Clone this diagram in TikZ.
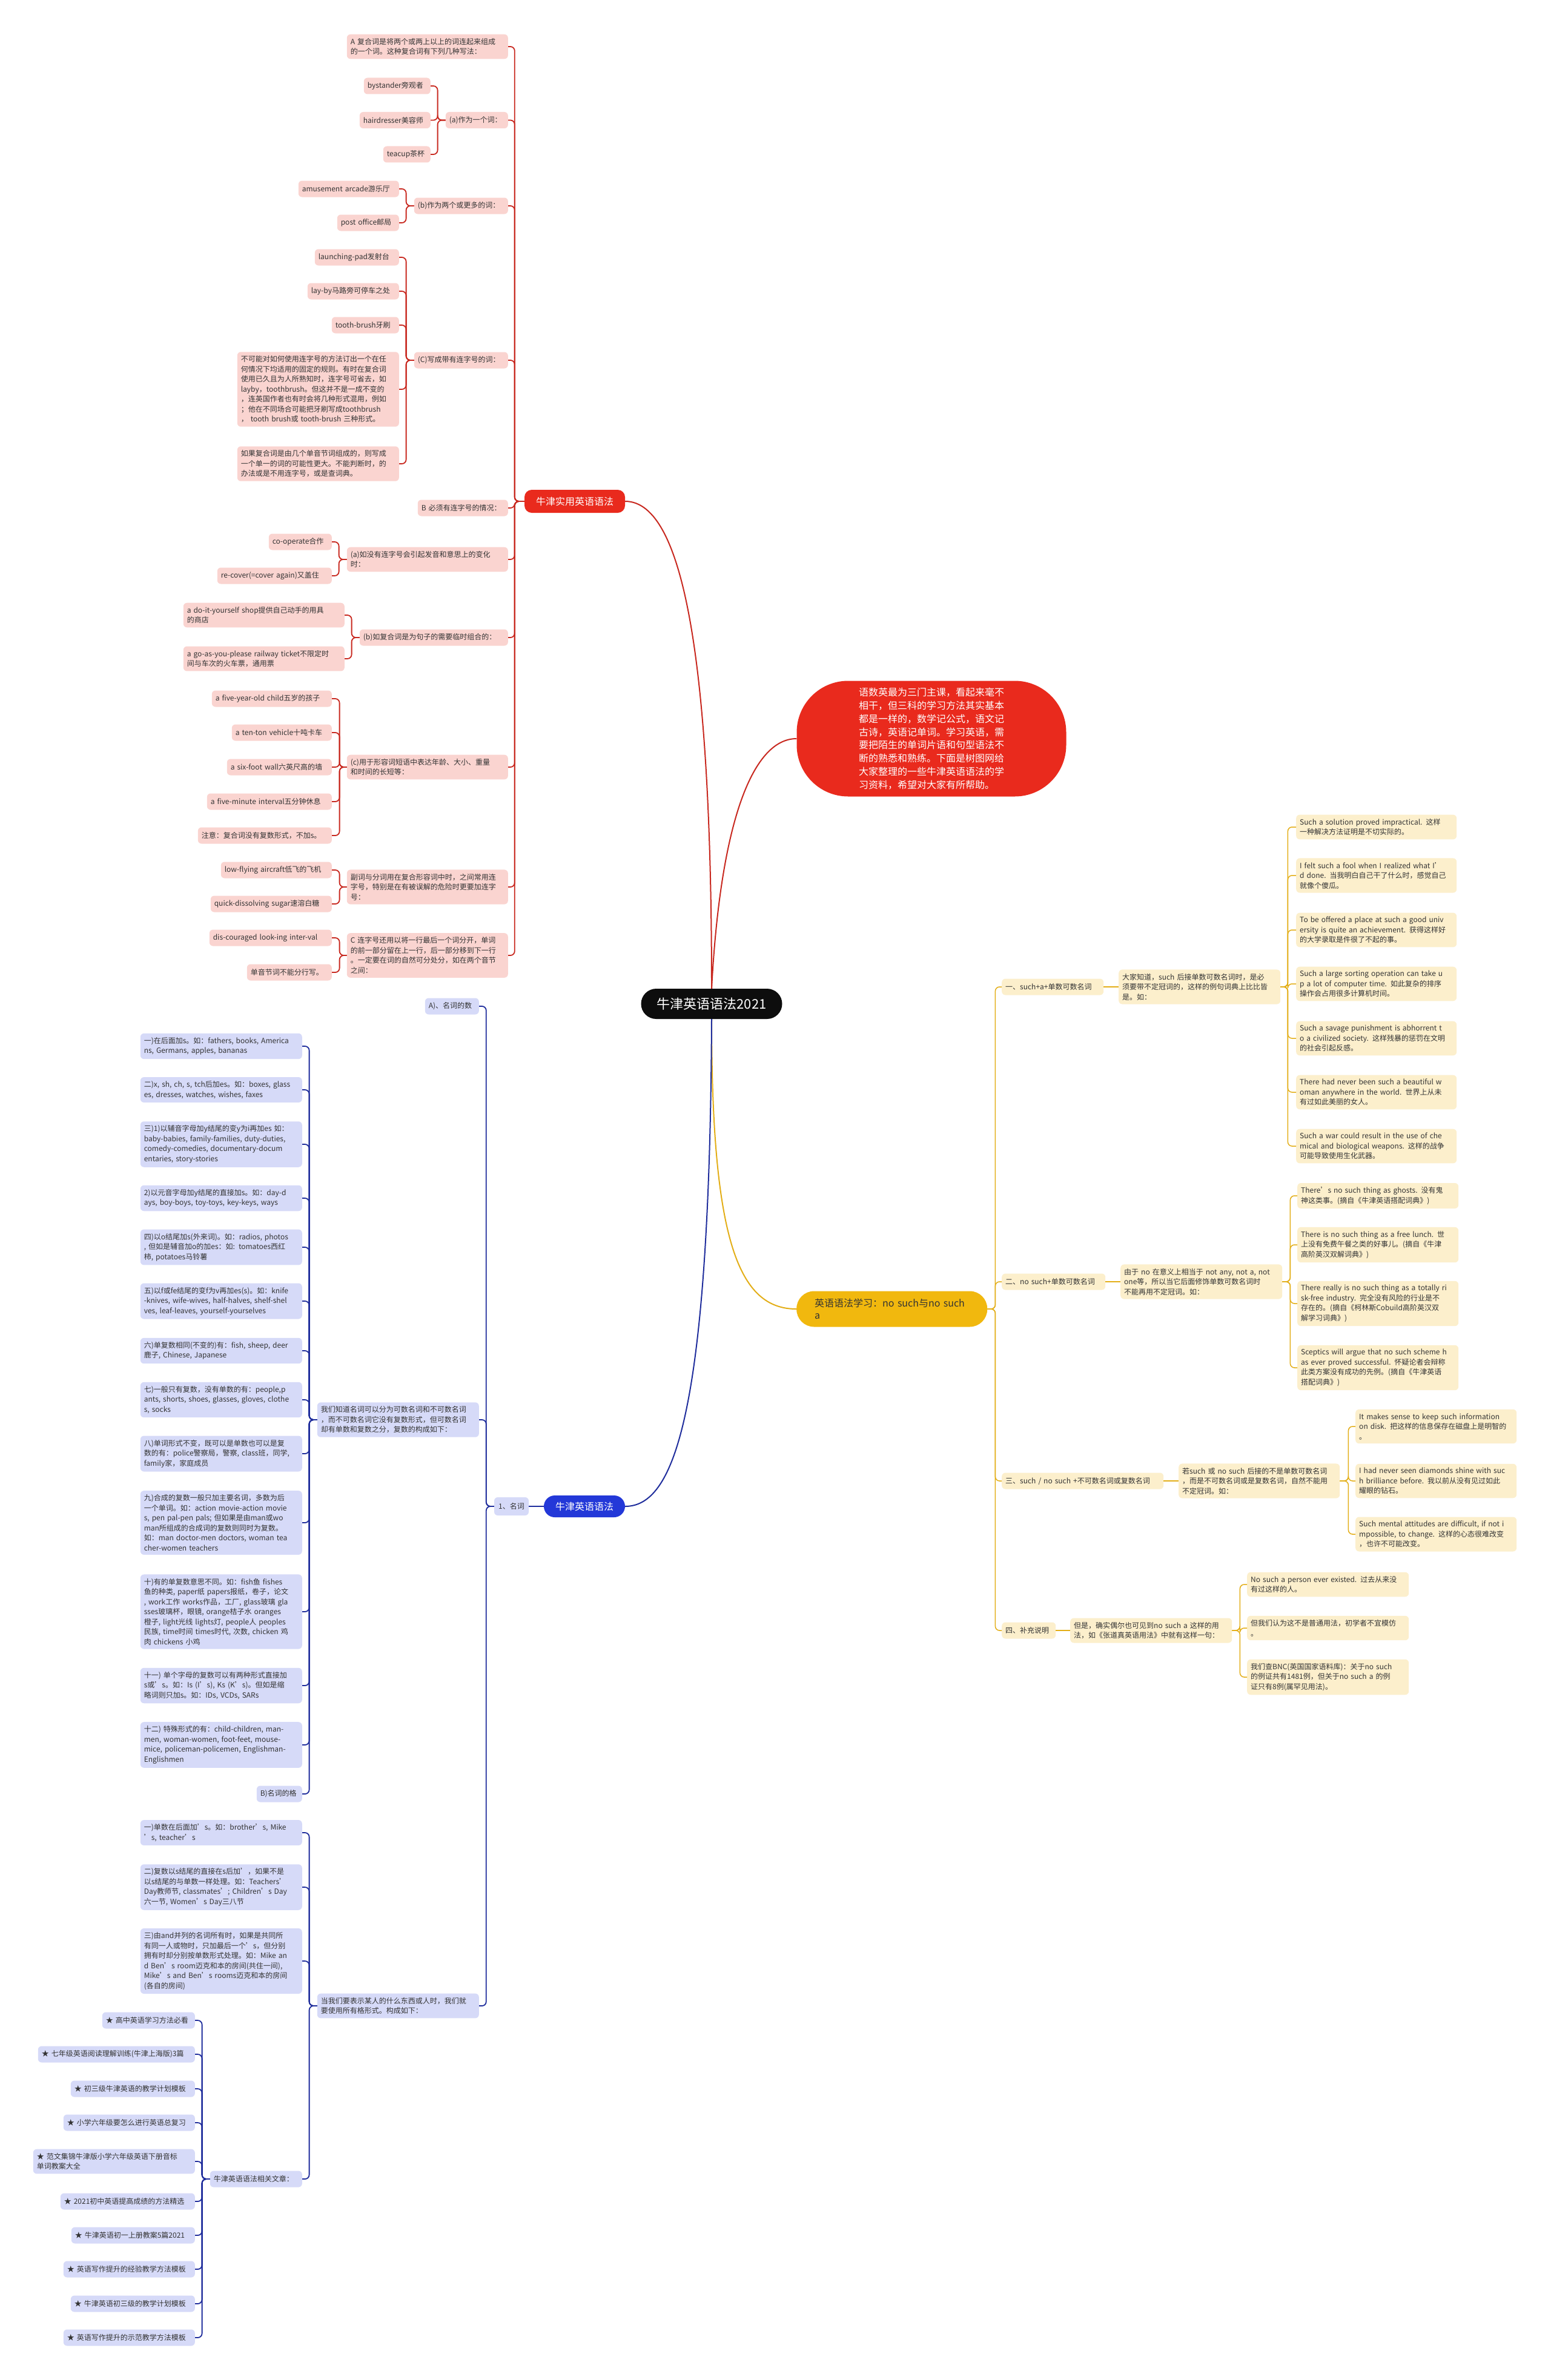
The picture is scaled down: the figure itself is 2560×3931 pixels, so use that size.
\documentclass[tikz,border=0pt]{standalone}
\usepackage{fontspec}
\setmainfont{Noto Sans CJK SC}
\usetikzlibrary{calc}
\definecolor{rfill}{HTML}{FAD4D0}
\definecolor{rline}{HTML}{C8281F}
\definecolor{rmain}{HTML}{E92A1D}
\definecolor{bfill}{HTML}{D6DAF8}
\definecolor{bline}{HTML}{1F2D9C}
\definecolor{bmain}{HTML}{2338D8}
\definecolor{yfill}{HTML}{FCEFCC}
\definecolor{yline}{HTML}{E3AE17}
\definecolor{ymain}{HTML}{F1B80E}
\definecolor{tcol}{HTML}{333333}
\newcommand\mmfix{\rightskip=-40pt plus 1fil\relax}
\newcommand\mmL[6]{\edef\mmtw{\the\numexpr#4-#3-12\relax pt}\node[#1,anchor=east,text width=\mmtw] (#2) at (#4,#5) {\mmfix #6};}
\newcommand\mmR[6]{\edef\mmtw{\the\numexpr#4-#3-12\relax pt}\node[#1,anchor=west,text width=\mmtw] (#2) at (#3,#5) {\mmfix #6};}
\newcommand\mmLC[4]{\draw[#1] (#2.west) -- ++(-#4,0) |- (#3.east);}
\newcommand\mmRC[4]{\draw[#1] (#2.east) -- ++(#4,0) |- (#3.west);}
\tikzset{
  mmbox/.style={rounded corners=6pt, inner xsep=6pt, inner ysep=6.5pt, minimum height=27pt, align=left, text=tcol, font=\fontsize{12}{16.5}\selectfont},
  rbox/.style={mmbox, fill=rfill},
  bbox/.style={mmbox, fill=bfill},
  ybox/.style={mmbox, fill=yfill},
  redlink/.style={draw=rline, line width=1.8pt, rounded corners=7pt},
  bluelink/.style={draw=bline, line width=1.8pt, rounded corners=7pt},
  yellink/.style={draw=yline, line width=1.5pt, rounded corners=7pt},
  rootst/.style={fill=black!95, text=white, rounded corners=25pt, minimum width=233pt, minimum height=50pt, inner sep=0pt, font=\fontsize{22}{26}\selectfont},
  introst/.style={fill=rmain, text=white, rounded corners=85pt, minimum width=445pt, minimum height=191pt, align=left, font=\fontsize{16}{21.8}\selectfont},
  redmainst/.style={fill=rmain, text=white, rounded corners=12pt, minimum width=166pt, minimum height=38pt, inner sep=0pt, font=\fontsize{16}{20}\selectfont},
  bluemainst/.style={fill=bmain, text=white, rounded corners=18pt, minimum width=134pt, minimum height=36pt, inner sep=0pt, font=\fontsize{16}{20}\selectfont},
  yelmainst/.style={fill=ymain, text=tcol, rounded corners=29pt, minimum height=59pt, inner xsep=30pt, inner ysep=8pt, align=left, font=\fontsize{16}{20}\selectfont},
}
\begin{document}
\begin{tikzpicture}[x=1pt,y=-1pt]
\fill[white] (0,0) rectangle (2560,3931);
\useasboundingbox (0,0) rectangle (2560,3931);

% ---------- main nodes ----------
\node[rootst] (root) at (1175,1658) {牛津英语语法2021};
\node[introst] (intro) at (1538,1220) {语数英最为三门主课，看起来毫不\\相干，但三科的学习方法其实基本\\都是一样的，数学记公式，语文记\\古诗，英语记单词。学习英语，需\\要把陌生的单词片语和句型语法不\\断的熟悉和熟练。下面是树图网给\\大家整理的一些牛津英语语法的学\\习资料，希望对大家有所帮助。};
\node[redmainst] (red) at (949,828) {牛津实用英语语法};
\node[bluemainst] (blue) at (965,2488) {牛津英语语法};
\node[yelmainst, anchor=west, text width=255pt] (yel) at (1315,2162) {\mmfix 英语语法学习：no such与no such\\ a};

\draw[rline, line width=2pt] (root.north) .. controls (1175,1100) and (1130,828) .. (red.east);
\draw[rline, line width=2pt] (root.north) .. controls (1190,1350) and (1245,1220) .. (intro.west);
\draw[yline, line width=2pt] (root.south) .. controls (1175,2050) and (1220,2162) .. (yel.west);
\draw[bline, line width=2pt] (root.south) .. controls (1172,2350) and (1110,2488) .. (blue.east);

% ---------- red branch ----------
\mmL{rbox}{rA}{573}{839}{77}{A 复合词是将两个或两上以上的词连起来组成\\的一个词。这种复合词有下列几种写法：}
\mmL{rbox}{ra}{736}{839}{198.5}{(a)作为一个词：}
\mmL{rbox}{ra1}{601}{711}{142}{bystander旁观者}
\mmL{rbox}{ra2}{594}{711}{198.5}{hairdresser美容师}
\mmL{rbox}{ra3}{633}{711}{255}{teacup茶杯}
\mmL{rbox}{rb}{684}{839}{340}{(b)作为两个或更多的词：}
\mmL{rbox}{rb1}{493}{659}{312}{amusement arcade游乐厅}
\mmL{rbox}{rb2}{557}{659}{368}{post office邮局}
\mmL{rbox}{rc}{684}{839}{595}{(C)写成带有连字号的词：}
\mmL{rbox}{rc1}{520}{659}{425}{launching-pad发射台}
\mmL{rbox}{rc2}{508}{659}{481}{lay-by马路旁可停车之处}
\mmL{rbox}{rc3}{548}{659}{537}{tooth-brush牙刷}
\mmL{rbox}{rc4}{392}{659}{643}{不可能对如何使用连字号的方法订出一个在任\\何情况下均适用的固定的规则。有时在复合词\\使用已久且为人所熟知时，连字号可省去，如\\layby，toothbrush。但这并不是一成不变的\\，连英国作者也有时会将几种形式混用，例如\\；他在不同场合可能把牙刷写成toothbrush\\， tooth brush或 tooth-brush 三种形式。}
\mmL{rbox}{rc5}{392}{659}{766}{如果复合词是由几个单音节词组成的，则写成\\一个单一的词的可能性更大。不能判断时，的\\办法或是不用连字号，或是查词典。}
\mmL{rbox}{rB}{690}{839}{839}{B 必须有连字号的情况：}
\mmL{rbox}{rd}{573}{839}{924}{(a)如没有连字号会引起发音和意思上的变化\\时：}
\mmL{rbox}{rd1}{444}{548}{895}{co-operate合作}
\mmL{rbox}{rd2}{359}{548}{951}{re-cover(=cover again)又盖住}
\mmL{rbox}{re}{594}{839}{1053}{(b)如复合词是为句子的需要临时组合的：}
\mmL{rbox}{re1}{303}{569}{1016}{a do-it-yourself shop提供自己动手的用具\\的商店}
\mmL{rbox}{re2}{303}{569}{1088}{a go-as-you-please railway ticket不限定时\\间与车次的火车票，通用票}
\mmL{rbox}{rf}{573}{839}{1267}{(c)用于形容词短语中表达年龄、大小、重量\\和时间的长短等：}
\mmL{rbox}{rf1}{350}{548}{1154}{a five-year-old child五岁的孩子}
\mmL{rbox}{rf2}{383}{548}{1210}{a ten-ton vehicle十吨卡车}
\mmL{rbox}{rf3}{375}{548}{1267}{a six-foot wall六英尺高的墙}
\mmL{rbox}{rf4}{342}{548}{1324}{a five-minute interval五分钟休息}
\mmL{rbox}{rf5}{327}{548}{1380}{注意：复合词没有复数形式，不加s。}
\mmL{rbox}{rg}{573}{839}{1465}{副词与分词用在复合形容词中时，之间常用连\\字号，特别是在有被误解的危险时更要加连字\\号：}
\mmL{rbox}{rg1}{365}{548}{1437}{low-flying aircraft低飞的飞机}
\mmL{rbox}{rg2}{348}{548}{1493}{quick-dissolving sugar速溶白糖}
\mmL{rbox}{rh}{573}{839}{1578}{C 连字号还用以将一行最后一个词分开，单词\\的前一部分留在上一行，后一部分移到下一行\\。一定要在词的自然可分处分，如在两个音节\\之间：}
\mmL{rbox}{rh1}{346}{548}{1549}{dis-couraged look-ing inter-val}
\mmL{rbox}{rh2}{408}{548}{1606}{单音节词不能分行写。}

\foreach \c in {rA,ra,rb,rc,rB,rd,re,rf,rg,rh} {\mmLC{redlink}{red}{\c}{16}}
\foreach \c in {ra1,ra2,ra3} {\mmLC{redlink}{ra}{\c}{13}}
\foreach \c in {rb1,rb2} {\mmLC{redlink}{rb}{\c}{13}}
\foreach \c in {rc1,rc2,rc3,rc4,rc5} {\mmLC{redlink}{rc}{\c}{13}}
\foreach \c in {rd1,rd2} {\mmLC{redlink}{rd}{\c}{13}}
\foreach \c in {re1,re2} {\mmLC{redlink}{re}{\c}{13}}
\foreach \c in {rf1,rf2,rf3,rf4,rf5} {\mmLC{redlink}{rf}{\c}{12}}
\foreach \c in {rg1,rg2} {\mmLC{redlink}{rg}{\c}{12}}
\foreach \c in {rh1,rh2} {\mmLC{redlink}{rh}{\c}{12}}

% ---------- blue branch ----------
\node[bbox, minimum width=57pt, minimum height=30pt, inner xsep=0pt] (b1) at (844.5,2488) {1、名词};
\mmL{bbox}{bA}{702}{791}{1662}{A)、名词的数}
\mmL{bbox}{bW}{524}{791}{2345}{我们知道名词可以分为可数名词和不可数名词\\，而不可数名词它没有复数形式，但可数名词\\却有单数和复数之分，复数的构成如下：}
\mmL{bbox}{bw1}{232}{499}{1728}{一)在后面加s。如：fathers, books, America\\ns, Germans, apples, bananas}
\mmL{bbox}{bw2}{232}{499}{1800}{二)x, sh, ch, s, tch后加es。如：boxes, glass\\es, dresses, watches, wishes, faxes}
\mmL{bbox}{bw3}{232}{499}{1890}{三)1)以辅音字母加y结尾的变y为i再加es 如：\\baby-babies, family-families, duty-duties,\\ comedy-comedies, documentary-docum\\entaries, story-stories}
\mmL{bbox}{bw4}{232}{499}{1979}{2)以元音字母加y结尾的直接加s。如：day-d\\ays, boy-boys, toy-toys, key-keys, ways}
\mmL{bbox}{bw5}{232}{499}{2060}{四)以o结尾加s(外来词)。如：radios, photos\\, 但如是辅音加o的加es：如: tomatoes西红\\柿, potatoes马铃薯}
\mmL{bbox}{bw6}{232}{499}{2149}{五)以f或fe结尾的变f为v再加es(s)。如：knife\\-knives, wife-wives, half-halves, shelf-shel\\ves, leaf-leaves, yourself-yourselves}
\mmL{bbox}{bw7}{232}{499}{2231}{六)单复数相同(不变的)有：fish, sheep, deer\\鹿子, Chinese, Japanese}
\mmL{bbox}{bw8}{232}{499}{2312}{七)一般只有复数，没有单数的有：people,p\\ants, shorts, shoes, glasses, gloves, clothe\\s, socks}
\mmL{bbox}{bw9}{232}{499}{2401}{八)单词形式不变，既可以是单数也可以是复\\数的有：police警察局，警察, class班，同学,\\ family家，家庭成员}
\mmL{bbox}{bw10}{232}{499}{2515}{九)合成的复数一般只加主要名词，多数为后\\一个单词。如：action movie-action movie\\s, pen pal-pen pals; 但如果是由man或wo\\man所组成的合成词的复数则同时为复数。\\如：man doctor-men doctors, woman tea\\cher-women teachers}
\mmL{bbox}{bw11}{232}{499}{2662}{十)有的单复数意思不同。如：fish鱼 fishes\\鱼的种类, paper纸 papers报纸，卷子，论文\\, work工作 works作品，工厂, glass玻璃 gla\\sses玻璃杯，眼镜, orange桔子水 oranges\\橙子, light光线 lights灯, people人 peoples\\民族, time时间 times时代, 次数, chicken 鸡\\肉 chickens 小鸡}
\mmL{bbox}{bw12}{232}{499}{2784}{十一) 单个字母的复数可以有两种形式直接加\\s或’s。如：Is (I’s), Ks (K’s)。但如是缩\\略词则只加s。如：IDs, VCDs, SARs}
\mmL{bbox}{bw13}{232}{499}{2882}{十二) 特殊形式的有：child-children, man-\\men, woman-women, foot-feet, mouse-\\mice, policeman-policemen, Englishman-\\Englishmen}
\mmL{bbox}{bwB}{424}{499}{2963}{B)名词的格}
\mmL{bbox}{bD}{524}{791}{3313}{当我们要表示某人的什么东西或人时，我们就\\要使用所有格形式。构成如下：}
\mmL{bbox}{bd1}{232}{499}{3027}{一)单数在后面加’s。如：brother’s, Mike\\’s, teacher’s}
\mmL{bbox}{bd2}{232}{499}{3117}{二)复数以s结尾的直接在s后加’，如果不是\\以s结尾的与单数一样处理。如：Teachers’\\Day教师节, classmates’; Children’s Day\\六一节, Women’s Day三八节}
\mmL{bbox}{bd3}{232}{499}{3239}{三)由and并列的名词所有时，如果是共同所\\有同一人或物时，只加最后一个’s，但分别\\拥有时却分别按单数形式处理。如：Mike an\\d Ben’s room迈克和本的房间(共住一间),\\Mike’s and Ben’s rooms迈克和本的房间\\(各自的房间)}
\mmL{bbox}{bRel}{347}{499}{3599}{牛津英语语法相关文章：}
\mmL{bbox}{s1}{169}{322}{3337}{★ 高中英语学习方法必看}
\mmL{bbox}{s2}{63}{322}{3393}{★ 七年级英语阅读理解训练(牛津上海版)3篇}
\mmL{bbox}{s3}{117}{322}{3450}{★ 初三级牛津英语的教学计划模板}
\mmL{bbox}{s4}{105}{322}{3506}{★ 小学六年级要怎么进行英语总复习}
\mmL{bbox}{s5}{55}{322}{3570}{★ 范文集锦牛津版小学六年级英语下册音标\\单词教案大全}
\mmL{bbox}{s6}{100}{322}{3636}{★ 2021初中英语提高成绩的方法精选}
\mmL{bbox}{s7}{118}{322}{3692}{★ 牛津英语初一上册教案5篇2021}
\mmL{bbox}{s8}{105}{322}{3748}{★ 英语写作提升的经验教学方法模板}
\mmL{bbox}{s9}{117}{322}{3805}{★ 牛津英语初三级的教学计划模板}
\mmL{bbox}{s10}{105}{322}{3861}{★ 英语写作提升的示范教学方法模板}

\draw[bluelink] (blue.west) -- (b1.east);
\foreach \c in {bA,bW,bD} {\mmLC{bluelink}{b1}{\c}{13}}
\foreach \c in {bw1,bw2,bw3,bw4,bw5,bw6,bw7,bw8,bw9,bw10,bw11,bw12,bw13,bwB} {\mmLC{bluelink}{bW}{\c}{13}}
\foreach \c in {bd1,bd2,bd3,bRel} {\mmLC{bluelink}{bD}{\c}{13}}
\foreach \c in {s1,s2,s3,s4,s5,s6,s7,s8,s9,s10} {\mmLC{bluelink}{bRel}{\c}{13}}

% ---------- yellow branch ----------
\mmR{ybox}{y1}{1654}{1822}{1630}{一、such+a+单数可数名词}
\mmR{ybox}{y1d}{1847}{2114}{1630}{大家知道，such 后接单数可数名词时，是必\\须要带不定冠词的，这样的例句词典上比比皆\\是。如：}
\mmR{ybox}{y1a}{2140}{2405}{1366}{Such a solution proved impractical. 这样\\一种解决方法证明是不切实际的。}
\mmR{ybox}{y1b}{2140}{2405}{1446}{I felt such a fool when I realized what I’\\d done. 当我明白自己干了什么时，感觉自己\\就像个傻瓜。}
\mmR{ybox}{y1c}{2140}{2405}{1536}{To be offered a place at such a good univ\\ersity is quite an achievement. 获得这样好\\的大学录取是件很了不起的事。}
\mmR{ybox}{y1e}{2140}{2405}{1625}{Such a large sorting operation can take u\\p a lot of computer time. 如此复杂的排序\\操作会占用很多计算机时间。}
\mmR{ybox}{y1f}{2140}{2405}{1715}{Such a savage punishment is abhorrent t\\o a civilized society. 这样残暴的惩罚在文明\\的社会引起反感。}
\mmR{ybox}{y1g}{2140}{2405}{1804}{There had never been such a beautiful w\\oman anywhere in the world. 世界上从未\\有过如此美丽的女人。}
\mmR{ybox}{y1h}{2140}{2405}{1893}{Such a war could result in the use of che\\mical and biological weapons. 这样的战争\\可能导致使用生化武器。}
\mmR{ybox}{y2}{1654}{1825}{2117}{二、no such+单数可数名词}
\mmR{ybox}{y2d}{1850}{2117}{2117}{由于 no 在意义上相当于 not any, not a, not\\ one等，所以当它后面修饰单数可数名词时\\不能再用不定冠词。如：}
\mmR{ybox}{y2a}{2142}{2408}{1975}{There’s no such thing as ghosts. 没有鬼\\神这类事。(摘自《牛津英语搭配词典》)}
\mmR{ybox}{y2b}{2142}{2408}{2056}{There is no such thing as a free lunch. 世\\上没有免费午餐之类的好事儿。(摘自《牛津\\高阶英汉双解词典》)}
\mmR{ybox}{y2c}{2142}{2408}{2153}{There really is no such thing as a totally ri\\sk-free industry. 完全没有风险的行业是不\\存在的。(摘自《柯林斯Cobuild高阶英汉双\\解学习词典》)}
\mmR{ybox}{y2e}{2142}{2408}{2259}{Sceptics will argue that no such scheme h\\as ever proved successful. 怀疑论者会辩称\\此类方案没有成功的先例。(摘自《牛津英语\\搭配词典》)}
\mmR{ybox}{y3}{1654}{1921}{2446}{三、such / no such +不可数名词或复数名词}
\mmR{ybox}{y3d}{1946}{2212}{2446}{若such 或 no such 后接的不是单数可数名词\\，而是不可数名词或是复数名词，自然不能用\\不定冠词。如：}
\mmR{ybox}{y3a}{2238}{2504}{2356}{It makes sense to keep such information\\on disk. 把这样的信息保存在磁盘上是明智的\\。}
\mmR{ybox}{y3b}{2238}{2504}{2446}{I had never seen diamonds shine with suc\\h brilliance before. 我以前从没有见过如此\\耀眼的钻石。}
\mmR{ybox}{y3c}{2238}{2504}{2534}{Such mental attitudes are difficult, if not i\\mpossible, to change. 这样的心态很难改变\\，也许不可能改变。}
\mmR{ybox}{y4}{1654}{1743}{2693}{四、补充说明}
\mmR{ybox}{y4d}{1767}{2034}{2693}{但是，确实偶尔也可见到no such a 这样的用\\法，如《张道真英语用法》中就有这样一句：}
\mmR{ybox}{y4a}{2059}{2326}{2617}{No such a person ever existed. 过去从来没\\有过这样的人。}
\mmR{ybox}{y4b}{2059}{2326}{2689}{但我们认为这不是普通用法，初学者不宜模仿\\。}
\mmR{ybox}{y4c}{2059}{2326}{2770}{我们查BNC(英国国家语料库)：关于no such\\的例证共有1481例，但关于no such a 的例\\证只有8例(属罕见用法)。}

\foreach \c in {y1,y2,y3,y4} {\mmRC{yellink}{yel}{\c}{13}}
\draw[yellink] (y1.east) -- (y1d.west);
\draw[yellink] (y2.east) -- (y2d.west);
\draw[yellink] (y3.east) -- (y3d.west);
\draw[yellink] (y4.east) -- (y4d.west);
\foreach \c in {y1a,y1b,y1c,y1e,y1f,y1g,y1h} {\mmRC{yellink}{y1d}{\c}{12}}
\foreach \c in {y2a,y2b,y2c,y2e} {\mmRC{yellink}{y2d}{\c}{13}}
\foreach \c in {y3a,y3b,y3c} {\mmRC{yellink}{y3d}{\c}{14}}
\foreach \c in {y4a,y4b,y4c} {\mmRC{yellink}{y4d}{\c}{13}}
\end{tikzpicture}
\end{document}
